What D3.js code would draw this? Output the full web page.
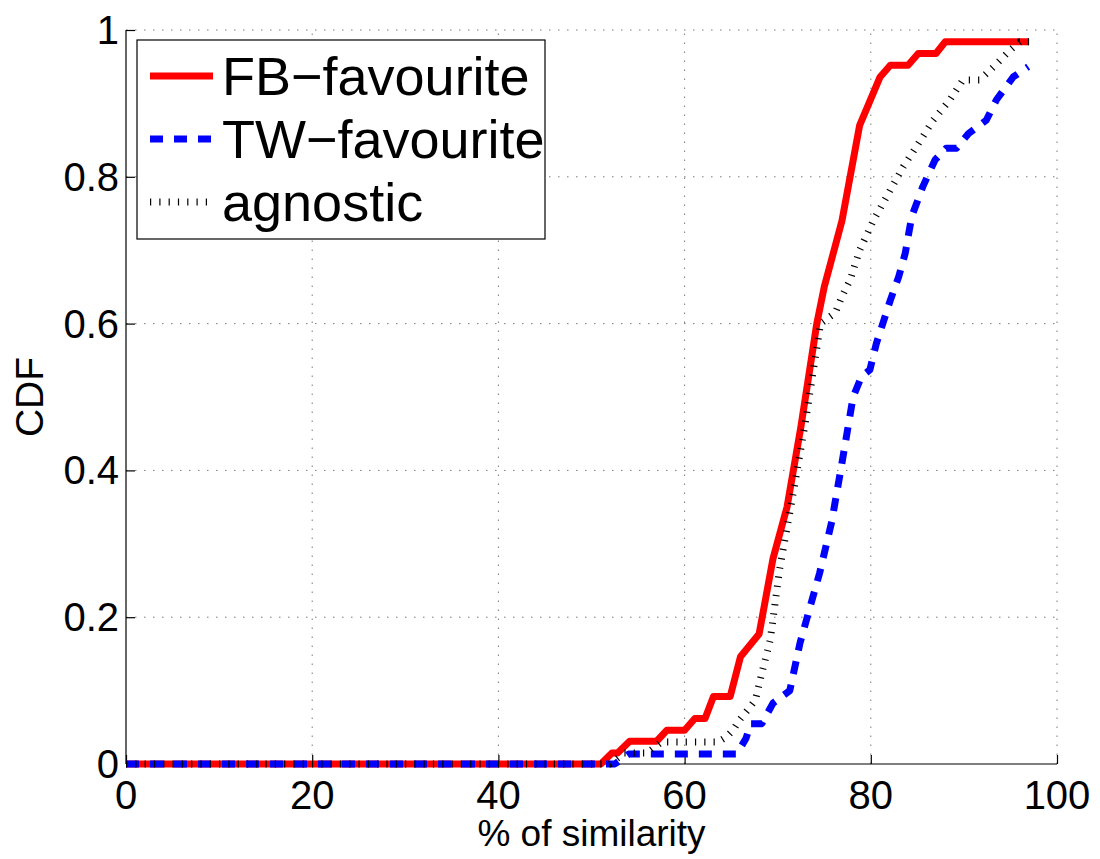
<!DOCTYPE html>
<html lang="en">
<head>
<meta charset="utf-8">
<title>CDF of similarity</title>
<script src="https://d3js.org/d3.v7.min.js"></script>
<style>
  body { margin: 0; background: #fff; }
  text { font-family: "Liberation Sans", Arial, Helvetica, sans-serif; fill: #000; }
  .grid line { stroke: #7a7a7a; stroke-width: 1; stroke-dasharray: 1.5 7.5; }
</style>
</head>
<body>
<script>

// [% of similarity, CDF]
var fbFavourite = [
  [0, 0], [51, 0], [52.2, 0.015], [52.8, 0.015], [54.1, 0.031], [57, 0.031],
  [58.1, 0.046], [60, 0.046], [61.1, 0.062], [62.2, 0.062], [63.1, 0.092],
  [64.9, 0.092], [66, 0.146], [68, 0.177], [69.5, 0.28], [71, 0.35],
  [72.5, 0.46], [74.2, 0.6], [75, 0.65], [76.9, 0.74], [78.8, 0.87],
  [81, 0.936], [82.1, 0.952], [84, 0.952], [85.1, 0.968], [87, 0.968],
  [88, 0.984], [97, 0.984]
];

var twFavourite = [
  [0, 0], [52.5, 0], [54, 0.0135], [65.6, 0.0135], [66.6, 0.035], [67.1, 0.055],
  [68.3, 0.055], [69.5, 0.083], [71.3, 0.1], [72.4, 0.165], [73.5, 0.215],
  [74.5, 0.26], [75.8, 0.33], [76.9, 0.41], [78.1, 0.5], [79, 0.528],
  [79.9, 0.537], [80.6, 0.573], [82.1, 0.632], [83, 0.664], [83.7, 0.696],
  [84.4, 0.746], [85.6, 0.787], [86.9, 0.823], [88.1, 0.839], [89.2, 0.839],
  [90.5, 0.859], [92.4, 0.877], [93.5, 0.905], [95.3, 0.936], [96.9, 0.95]
];

var agnostic = [
  [0, 0], [52, 0], [53.5, 0.015], [56, 0.015], [57.5, 0.03], [63.6, 0.03],
  [64.5, 0.037], [65.2, 0.046], [65.9, 0.06], [66.8, 0.074], [67.6, 0.087],
  [68.3, 0.124], [69.2, 0.169], [70.2, 0.265], [71.4, 0.35], [72.9, 0.46],
  [74.6, 0.6], [76.2, 0.615], [76.9, 0.637], [77.8, 0.66], [78.8, 0.7],
  [80.3, 0.741], [82.1, 0.782], [83.5, 0.814], [84.9, 0.841], [86.7, 0.877],
  [88.5, 0.905], [89.9, 0.932], [91.7, 0.932], [93.2, 0.95], [95, 0.973],
  [96, 0.984], [97, 0.984]
];

var xTicks = [0, 20, 40, 60, 80, 100];
var yTicks = [0, 0.2, 0.4, 0.6, 0.8, 1];
var yTickLabels = ["0", "0.2", "0.4", "0.6", "0.8", "1"];
var seriesNames = ["FB\u2212favourite", "TW\u2212favourite", "agnostic"];

var width = 1100, height = 859;
var margin = {left: 126, right: 43, top: 30, bottom: 95};

var svg = d3.select("body").append("svg")
    .attr("width", width)
    .attr("height", height);

var x = d3.scaleLinear().domain([0, 100]).range([margin.left, width - margin.right]);
var y = d3.scaleLinear().domain([0, 1]).range([height - margin.bottom, margin.top]);

// dotted grid
var grid = svg.append("g").attr("class", "grid");
grid.selectAll(".gx").data(xTicks.slice(1)).enter().append("line")
    .attr("x1", d => x(d)).attr("x2", d => x(d))
    .attr("y1", y(0)).attr("y2", y(1));
grid.selectAll(".gy").data(yTicks.slice(1)).enter().append("line")
    .attr("x1", x(0)).attr("x2", x(100))
    .attr("y1", d => y(d)).attr("y2", d => y(d));

// axes: inward ticks, labels drawn separately
var xAxis = svg.append("g")
    .attr("transform", "translate(0," + y(0) + ")")
    .call(d3.axisTop(x).tickValues(xTicks).tickSize(9).tickFormat(""));
var yAxis = svg.append("g")
    .attr("transform", "translate(" + x(0) + ",0)")
    .call(d3.axisRight(y).tickValues(yTicks).tickSize(9).tickFormat(""));
svg.selectAll(".domain").attr("stroke", "#000").attr("stroke-width", 1.2);
svg.selectAll(".tick line").attr("stroke", "#000").attr("stroke-width", 1.2);
// remove the outer ends of the domain path so no box appears
xAxis.select(".domain").attr("d", "M" + x(0) + ",0H" + x(100));
yAxis.select(".domain").attr("d", "M0," + y(0) + "V" + y(1));

svg.append("g").selectAll("text").data(xTicks).enter().append("text")
    .attr("x", d => x(d))
    .attr("y", 809)
    .attr("text-anchor", "middle")
    .style("font-size", "40px")
    .text(d => d);

svg.append("g").selectAll("text").data(yTicks).enter().append("text")
    .attr("x", x(0) - 7)
    .attr("y", d => y(d) + 14)
    .attr("text-anchor", "end")
    .style("font-size", "40px")
    .text((d, i) => yTickLabels[i]);

svg.append("text")
    .attr("x", (x(0) + x(100)) / 2)
    .attr("y", 846)
    .attr("text-anchor", "middle")
    .style("font-size", "37px")
    .text("% of similarity");

svg.append("text")
    .attr("transform", "translate(43," + ((y(0) + y(1)) / 2) + ") rotate(-90)")
    .attr("text-anchor", "middle")
    .style("font-size", "39px")
    .text("CDF");

// curves
var line = d3.line().x(d => x(d[0])).y(d => y(d[1]));

var styles = [
  {color: "#ff0000", width: 7, dash: null, cap: "butt"},
  {color: "#0000ff", width: 7, dash: "13 11", cap: "butt"},
  {color: "#000000", width: 7, dash: "1.2 8.1", cap: "butt"}
];
var series = [fbFavourite, twFavourite, agnostic];

series.forEach(function(s, i) {
  svg.append("path")
      .datum(s)
      .attr("d", line)
      .attr("fill", "none")
      .attr("stroke", styles[i].color)
      .attr("stroke-width", styles[i].width)
      .attr("stroke-linejoin", "round")
      .attr("stroke-linecap", styles[i].cap)
      .attr("stroke-dasharray", styles[i].dash);
});

// legend
var legend = svg.append("g");
legend.append("rect")
    .attr("x", 137).attr("y", 40)
    .attr("width", 408).attr("height", 199)
    .attr("fill", "#fff")
    .attr("stroke", "#000")
    .attr("stroke-width", 1.2);

seriesNames.forEach(function(name, i) {
  var base = 95 + i * 63;
  legend.append("line")
      .attr("x1", 150).attr("x2", 213)
      .attr("y1", base - 19).attr("y2", base - 19)
      .attr("stroke", styles[i].color)
      .attr("stroke-width", styles[i].width)
      .attr("stroke-dasharray", styles[i].dash);
  legend.append("text")
      .attr("x", 222)
      .attr("y", base)
      .style("font-size", "54px")
      .text(name);
});

</script>
</body>
</html>
